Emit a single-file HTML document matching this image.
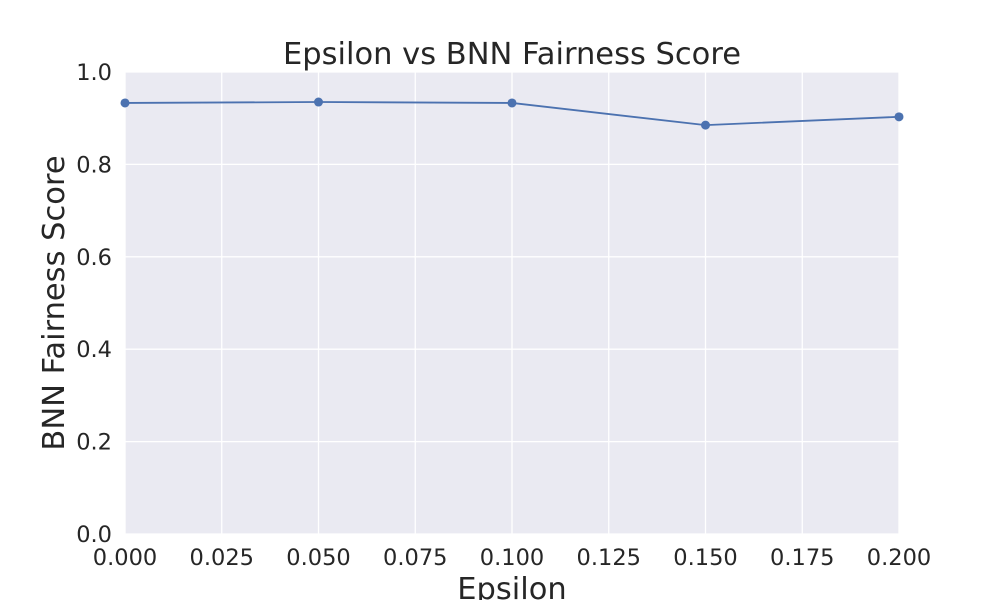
<!DOCTYPE html>
<html><head><meta charset="utf-8"><style>
body{margin:0;background:#fff;}
svg text{font-family:"DejaVu Sans","Liberation Sans",sans-serif;fill:#262626;}
</style></head><body>
<svg id="chart" width="1000" height="600" xmlns="http://www.w3.org/2000/svg">
<rect x="125" y="72" width="774" height="462" fill="#eaeaf2"/>
<g id="grid"></g>
<g id="ticks"></g>
<text x="512" y="64" font-size="30.5" text-anchor="middle">Epsilon vs BNN Fairness Score</text>
<text x="512" y="599" font-size="30.5" text-anchor="middle">Epsilon</text>
<text transform="translate(64,303) rotate(-90)" font-size="30.5" text-anchor="middle">BNN Fairness Score</text>
<g id="series"></g>
</svg>
<script>
const xs = [0.0, 0.05, 0.1, 0.15, 0.2];
const ys = [0.933, 0.935, 0.933, 0.885, 0.903];
const xTicks = [0, 0.025, 0.05, 0.075, 0.1, 0.125, 0.15, 0.175, 0.2];
const xTickLabels = ["0.000","0.025","0.050","0.075","0.100","0.125","0.150","0.175","0.200"];
const yTicks = [0, 0.2, 0.4, 0.6, 0.8, 1.0];
const yTickLabels = ["0.0","0.2","0.4","0.6","0.8","1.0"];
const NS="http://www.w3.org/2000/svg";
const X0=125,X1=899,Y0=534,Y1=72;
function sx(v){return X0+(v-0)/(0.2-0)*(X1-X0);}
function sy(v){return Y0-(v-0)/(1-0)*(Y0-Y1);}
function mk(t,a,p){const e=document.createElementNS(NS,t);for(const k in a)e.setAttribute(k,a[k]);p.appendChild(e);return e;}
const grid=document.getElementById('grid'),ticks=document.getElementById('ticks'),series=document.getElementById('series');
xTicks.forEach((v,i)=>{
 const l=mk('line',{x1:sx(v),x2:sx(v),y1:Y1,y2:Y0,stroke:'#fff','stroke-width':1.3},grid);
 
 
 const t=mk('text',{x:sx(v),y:565,'font-size':22.5,'text-anchor':'middle'},ticks);
 t.textContent=xTickLabels[i];
 
 
});
yTicks.forEach((v,i)=>{
 const l=mk('line',{x1:X0,x2:X1,y1:sy(v),y2:sy(v),stroke:'#fff','stroke-width':1.3},grid);
 
 
 const t=mk('text',{x:112,y:sy(v)+8,'font-size':22.5,'text-anchor':'end'},ticks);
 t.textContent=yTickLabels[i];
 
 
});
const pl=mk('polyline',{points:xs.map((x,i)=>sx(x)+','+sy(ys[i])).join(' '),fill:'none',stroke:'#4c72b0','stroke-width':1.8},series);


xs.forEach((x,i)=>{
 const c=mk('circle',{cx:sx(x),cy:sy(ys[i]),r:4.5,fill:'#4c72b0'},series);
 
 
});
</script>
</body></html>
